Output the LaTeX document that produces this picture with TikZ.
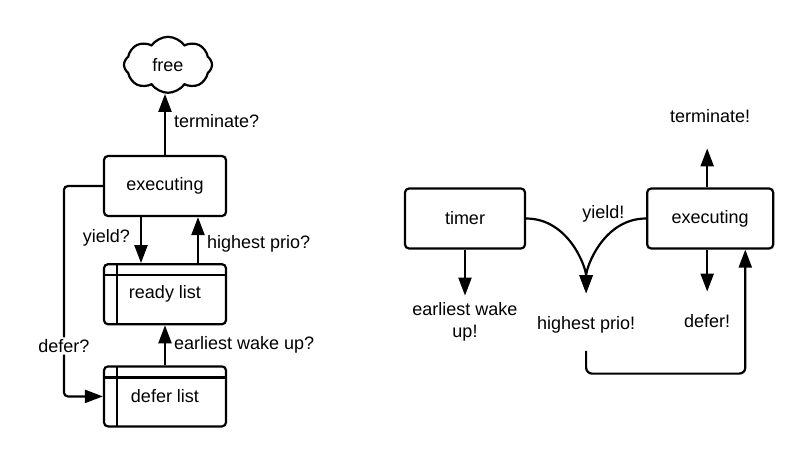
\documentclass[tikz,border=0pt]{standalone}
\usepackage{fontspec}
\setmainfont{Liberation Sans}
\usepackage{tikz}
\usetikzlibrary{positioning}
\usetikzlibrary{shapes.symbols}
\usetikzlibrary{arrows.meta}
\usetikzlibrary{calc}
\tikzstyle{state}=[draw, line width=1.1pt, rounded corners=2pt, minimum width=61pt, minimum height=30pt]
\tikzstyle{listbox}=[state, path picture={
	\draw[line width=1.1pt] ([xshift=6.5pt]path picture bounding box.north west) -- ([xshift=6.5pt]path picture bounding box.south west);
	\draw[line width=1.1pt] ([yshift=-5.5pt]path picture bounding box.north west) -- ([yshift=-5.5pt]path picture bounding box.north east);}]
\tikzstyle{arr}=[line width=1.1pt, -{Triangle[length=9pt,width=6.5pt]}]

\begin{document}
\begin{tikzpicture}
\fontsize{9}{11}\selectfont
\useasboundingbox (0,0) rectangle (402.5pt,-231pt);
% task states
\node (exec) 
	[state] at (82.5pt,-93pt)
	{executing};
\node (free) 
	[cloud, draw, line width=1.1pt, cloud puffs=8, cloud puff arc=110, cloud ignores aspect, minimum width=44pt, minimum height=28pt, inner sep=0pt, above=30.5pt of exec, xshift=1.5pt] 
	{free};
\node (ready) 
	[listbox, below=23pt of exec] 
	{ready list};
\node (defer) 
	[listbox, below=20pt of ready] 
	{defer list};

\draw[arr] (exec.north) -- node[pos=.55, right=1pt] (lterm) {terminate?} (exec.north |- free.south);
\draw[arr] ([xshift=-12pt]exec.south) -- node[pos=.46, left=2pt] (lyieldq) {yield?} ([xshift=-12pt]ready.north);
\draw[arr] ([xshift=16.5pt]ready.north) -- node[pos=.41, right=1pt] (lprioq) {highest prio?} ([xshift=16.5pt]exec.south);
\draw[arr] (defer.north) -- node[pos=.52, right=1pt] (lwakeq) {earliest wake up?} (ready.south);
\draw[arr, rounded corners=2pt] (exec.west) -- ++(-19.5pt,0) |- node[pos=.38, fill=white, inner sep=1pt] (ldeferq) {defer?} (defer.west);

% scheduler view
\node (timer) 
	[state, minimum width=60pt] at (232.5pt,-109.25pt) 
	{timer};
\node (exec2) 
	[state, minimum width=63pt, right=60pt of timer] 
	{executing};
\node (term) 
	[above=29.4pt of exec2] 
	{terminate!};
\node (ewake) 
	[below=23pt of timer, align=center] 
	{earliest wake\\up!};
\node (hprio) 
	at ($(timer.east)!.5!(exec2.west)+(0,-53.25pt)$) 
	{highest prio!};
\node (defer2) 
	[below=29.4pt of exec2, xshift=-1.5pt] 
	{defer!};
\node (lyield) 
	[left=7.7pt of exec2.west, yshift=2.25pt] 
	{yield!};
\coordinate (back) at ($(exec2.south east)+(-14.5pt,-62pt)$);

\draw[arr, shorten >=9.9pt] ([xshift=-1.5pt]exec2.north) -- ([xshift=-1.5pt]term.south);
\draw[arr] (timer.south) -- (ewake.north);
\draw[arr, shorten >=8.4pt] ([xshift=-1.5pt]exec2.south) -- (defer2.north);
\draw[arr, shorten >=8.5pt] (timer.east) to[out=0, in=90] (hprio.north);
\draw[arr, shorten >=8.5pt] (exec2.west) to[out=180, in=90] (hprio.north);
\draw[arr, rounded corners=3pt, shorten <=5.5pt] (hprio.south) |- (back) -- (back |- exec2.south);
\end{tikzpicture}
\end{document}
